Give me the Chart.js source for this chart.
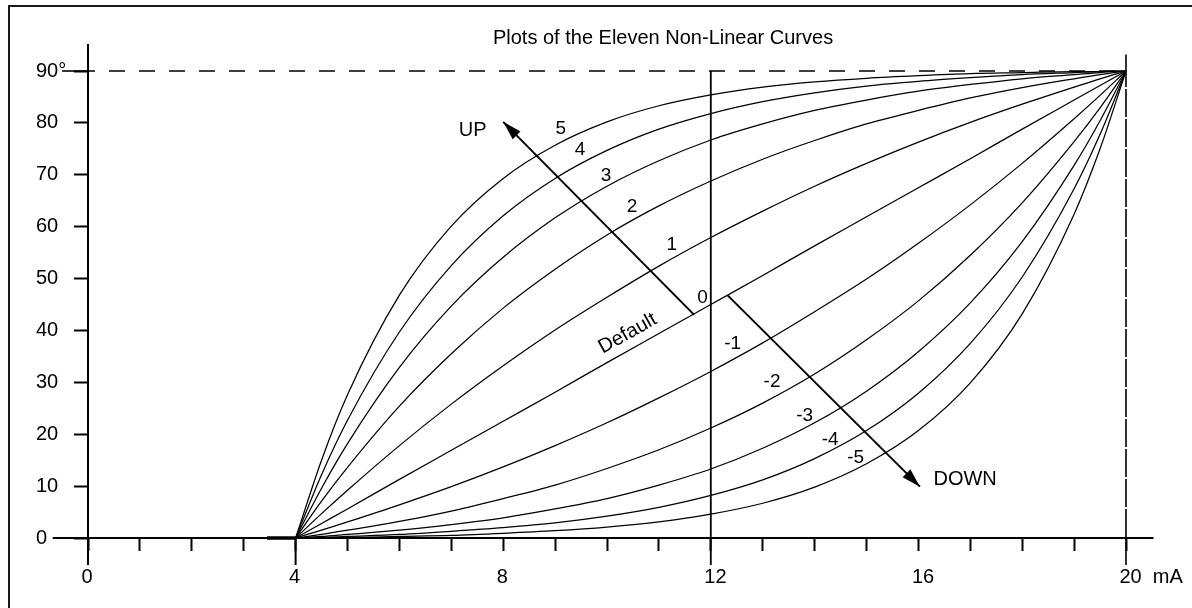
<!DOCTYPE html>
<html lang="en">
<head>
  <meta charset="UTF-8">
  <title>Plots of the Eleven Non-Linear Curves</title>
  <script src="https://cdn.jsdelivr.net/npm/chart.js"></script>
  <style>
    html, body { margin: 0; padding: 0; background: #fff; overflow: hidden; }
    #frame { position: absolute; left: 8px; top: 5px; width: 1300px; height: 700px;
             border-left: 2px solid #1a1a1a; border-top: 2px solid #1a1a1a; }
    #curves { position: absolute; left: 0; top: 0; }
  </style>
</head>
<body>
  <div id="frame"></div>
  <canvas id="curves" width="1192" height="608"></canvas>
  <script>
    const mA = [4, 4.5, 5, 6, 7, 8, 9, 10, 11, 12, 13, 14, 15, 16, 17, 18, 19, 19.5, 20];

    // output angle (degrees) of each curve
    const up5   = [0, 15.0, 27.6, 46.8, 60.1, 69.3, 75.7, 80.2, 83.3, 85.4, 86.9, 87.9, 88.6, 89.1, 89.5, 89.7, 89.9, 89.9, 90];
    const up4   = [0, 12.2, 22.7, 39.7, 52.5, 62.1, 69.3, 74.7, 78.8, 81.8, 84.1, 85.8, 87.1, 88.0, 88.7, 89.3, 89.7, 89.9, 90];
    const up3   = [0, 9.6, 18.2, 32.9, 44.7, 54.1, 61.7, 67.8, 72.7, 76.7, 79.8, 82.4, 84.4, 86.1, 87.4, 88.5, 89.3, 89.7, 90];
    const up2   = [0, 7.1, 13.6, 25.4, 35.5, 44.3, 51.8, 58.4, 64.0, 68.8, 73.0, 76.6, 79.8, 82.4, 84.8, 86.8, 88.5, 89.3, 90];
    const up1   = [0, 4.7, 9.2, 17.8, 25.8, 33.2, 40.1, 46.4, 52.4, 57.9, 63.0, 67.8, 72.2, 76.3, 80.1, 83.6, 86.9, 88.5, 90];
    const dflt  = [0, 2.8, 5.6, 11.3, 16.9, 22.5, 28.1, 33.8, 39.4, 45.0, 50.6, 56.3, 61.9, 67.5, 73.1, 78.8, 84.4, 87.2, 90];
    const down1 = [0, 1.5, 3.1, 6.4, 9.9, 13.7, 17.8, 22.2, 27.0, 32.1, 37.6, 43.6, 49.9, 56.8, 64.2, 72.2, 80.8, 85.3, 90];
    const down2 = [0, 0.7, 1.5, 3.2, 5.2, 7.6, 10.2, 13.4, 17.0, 21.2, 26.0, 31.6, 38.2, 45.7, 54.5, 64.6, 76.4, 82.9, 90];
    const down3 = [0, 0.3, 0.7, 1.5, 2.6, 3.9, 5.6, 7.6, 10.2, 13.3, 17.3, 22.2, 28.3, 35.9, 45.3, 57.1, 71.8, 80.4, 90];
    const down4 = [0, 0.1, 0.3, 0.7, 1.3, 2.0, 2.9, 4.2, 5.9, 8.2, 11.2, 15.3, 20.7, 27.9, 37.5, 50.3, 67.3, 77.8, 90];
    const down5 = [0, 0.1, 0.1, 0.3, 0.5, 0.9, 1.4, 2.1, 3.1, 4.6, 6.7, 9.8, 14.3, 20.7, 29.9, 43.2, 62.4, 75.0, 90];

    const curves = [up5, up4, up3, up2, up1, dflt, down1, down2, down3, down4, down5];
    const curveNames = ['5', '4', '3', '2', '1', '0', '-1', '-2', '-3', '-4', '-5'];
    // where the curve numbers sit (mA, deg)
    const nameAt = [[9.11, 78.8], [9.48, 74.9], [9.98, 69.8], [10.48, 63.8], [11.25, 56.5], [11.84, 46.3],
                    [12.42, 37.5], [13.18, 30.1], [13.81, 23.5], [14.30, 18.9], [14.79, 15.4]];

    // axis ticks
    const xTicks = [0, 1, 2, 3, 4, 5, 6, 7, 8, 9, 10, 11, 12, 13, 14, 15, 16, 17, 18, 19, 20];
    const xLabels = { 0: '0', 4: '4', 8: '8', 12: '12', 16: '16', 20: '20  mA' };
    const yTicks = [0, 10, 20, 30, 40, 50, 60, 70, 80, 90];
    const yLabels = { 0: '0', 10: '10', 20: '20', 30: '30', 40: '40', 50: '50', 60: '60', 70: '70', 80: '80', 90: '90°' };

    // guide lines and arrows, in mA / deg
    const yAxisLine = [[0, -5.2], [0, 95.2]];
    const xAxisLine = [[-0.68, 0], [20.53, 0]];
    const fullScale = [[-0.5, 90], [0, 90], [20, 90], [20.53, 90]];
    const midLine   = [[12, 90], [12, -5.2]];
    const endLine   = [[20, 93.2], [20, 90], [20, 0], [20, -5.2]];
    const startTick = [[4, 0], [4, -5.2]];
    const zeroStub  = [[3.45, 0], [4, 0]];
    const upArrow   = [[11.68, 43.0], [8.0, 80.2]];
    const downArrow = [[12.32, 46.8], [16.03, 9.9]];

    const FONT = '"Liberation Sans", Arial, sans-serif';
    Chart.defaults.font.family = FONT;
    Chart.defaults.color = '#000';

    const pts = arr => arr.map(p => ({ x: p[0], y: p[1] }));
    const guide = (arr, width, extra) => Object.assign({
      data: pts(arr), borderColor: '#000', borderWidth: width, pointRadius: 0,
      clip: false, tension: 0
    }, extra || {});

    const datasets = curves.map((c, i) => ({
      label: curveNames[i],
      data: mA.map((x, j) => ({ x: x, y: c[j] })),
      borderColor: '#000',
      borderWidth: 1.25,
      pointRadius: 0,
      cubicInterpolationMode: 'monotone',
      clip: false
    }));

    datasets.push(
      guide(yAxisLine, 2),
      guide(xAxisLine, 2),
      guide(fullScale, 1.6, { borderDashOffset: 9,
        segment: { borderDash: ctx => ctx.p0DataIndex === 1 ? [16, 14] : undefined } }),
      guide(midLine, 1.8),
      guide(endLine, 1.6, {
        segment: { borderDash: ctx => ctx.p0DataIndex === 1 ? [16, 14] : undefined } }),
      guide(startTick, 2),
      guide(zeroStub, 3.5),
      guide(upArrow, 2, { arrow: true }),
      guide(downArrow, 2, { arrow: true })
    );

    const notes = [
      { text: 'Plots of the Eleven Non-Linear Curves', x: 11.08, y: 96.2, size: 20 },
      { text: 'UP', x: 7.41, y: 78.6, size: 20 },
      { text: 'DOWN', x: 16.9, y: 11.2, size: 20 },
      { text: 'Default', x: 10.40, y: 39.4, size: 20, rot: -29.3 }
    ];
    curveNames.forEach((n, i) => notes.push({ text: n, x: nameAt[i][0], y: nameAt[i][1], size: 19 }));

    const arrowHeads = {
      id: 'arrowHeads',
      afterDatasetsDraw(chart) {
        const ctx = chart.ctx;
        chart.data.datasets.forEach((ds, i) => {
          if (!ds.arrow) return;
          const d = chart.getDatasetMeta(i).data;
          const a = d[d.length - 2], b = d[d.length - 1];
          const ang = Math.atan2(b.y - a.y, b.x - a.x);
          ctx.save();
          ctx.translate(b.x, b.y);
          ctx.rotate(ang);
          ctx.beginPath();
          ctx.moveTo(0, 0);
          ctx.lineTo(-19, -5.5);
          ctx.lineTo(-19, 5.5);
          ctx.closePath();
          ctx.fillStyle = '#000';
          ctx.fill();
          ctx.restore();
        });
      }
    };

    const textNotes = {
      id: 'textNotes',
      afterDraw(chart) {
        const ctx = chart.ctx;
        const sx = chart.scales.x, sy = chart.scales.y;
        notes.forEach(n => {
          ctx.save();
          ctx.font = n.size + 'px ' + FONT;
          ctx.fillStyle = '#000';
          ctx.textAlign = 'center';
          ctx.textBaseline = 'middle';
          ctx.translate(sx.getPixelForValue(n.x), sy.getPixelForValue(n.y));
          if (n.rot) ctx.rotate(n.rot * Math.PI / 180);
          ctx.fillText(n.text, 0, 0);
          ctx.restore();
        });
      }
    };

    new Chart(document.getElementById('curves').getContext('2d'), {
      type: 'line',
      data: { datasets: datasets },
      options: {
        responsive: false,
        animation: false,
        events: [],
        layout: { padding: { left: 36, top: 71, right: 66, bottom: 0 } },
        plugins: { legend: { display: false }, tooltip: { enabled: false }, title: { display: false } },
        scales: {
          x: {
            type: 'linear', min: 0, max: 20,
            afterBuildTicks: s => { s.ticks = xTicks.map(v => ({ value: v })); },
            afterFit: s => { s.height = 70; s.paddingLeft = 0; s.paddingRight = 0; },
            grid: { drawOnChartArea: false, tickLength: 13, tickWidth: 2, tickColor: '#000' },
            border: { display: true, color: '#000', width: 2 },
            ticks: {
              autoSkip: false, maxRotation: 0, minRotation: 0,
              align: 'start', labelOffset: -6.5, padding: 14,
              font: { size: 20 }, color: '#000',
              callback: v => xLabels[v] || ''
            }
          },
          y: {
            type: 'linear', min: 0, max: 90,
            afterBuildTicks: s => { s.ticks = yTicks.map(v => ({ value: v })); },
            afterFit: s => { s.width = 52; s.paddingTop = 0; s.paddingBottom = 0; },
            grid: { drawOnChartArea: false, tickLength: 14, tickWidth: 2, tickColor: '#000' },
            border: { display: true, color: '#000', width: 2 },
            ticks: {
              crossAlign: 'far', padding: 16,
              font: { size: 20 }, color: '#000',
              callback: v => yLabels[v] || ''
            }
          }
        }
      },
      plugins: [arrowHeads, textNotes]
    });
  </script>
</body>
</html>
